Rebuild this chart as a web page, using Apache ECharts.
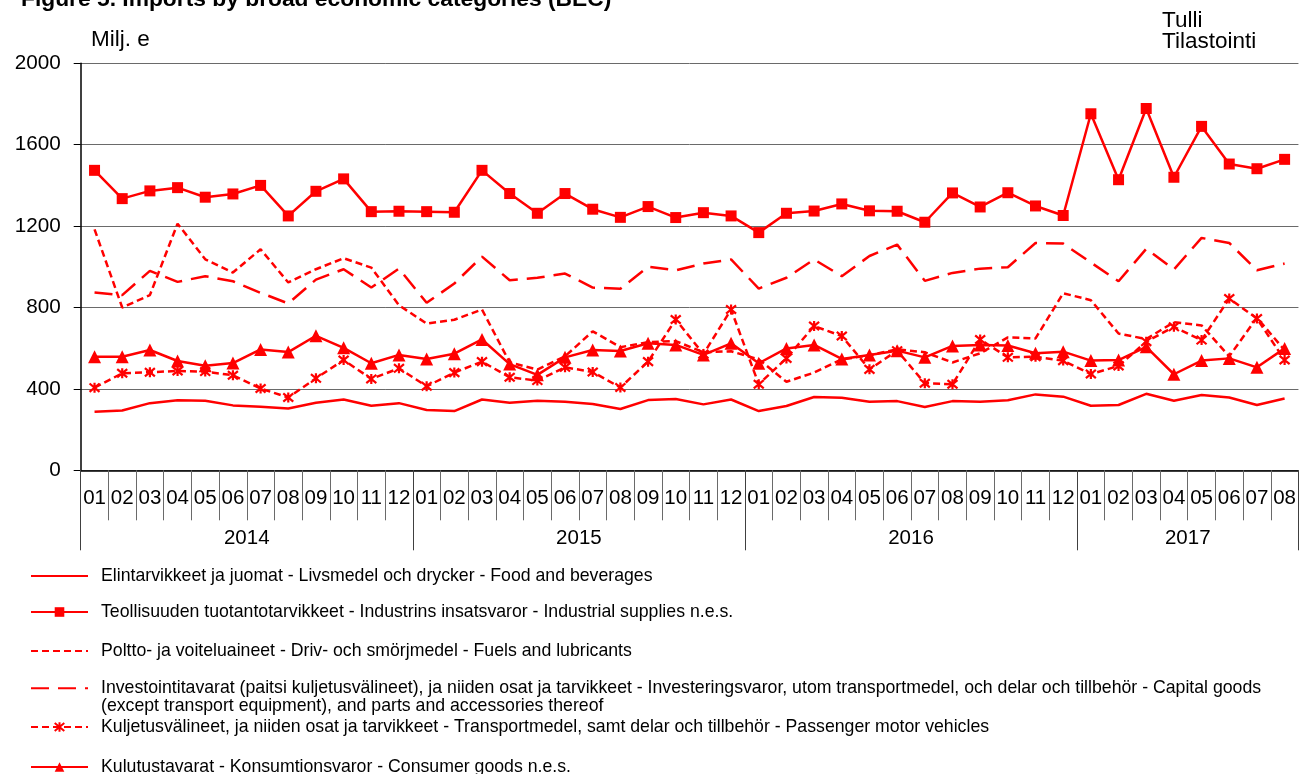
<!DOCTYPE html>
<html>
<head>
<meta charset="utf-8">
<script src="https://cdn.jsdelivr.net/npm/echarts@6/dist/echarts.min.js"></script>
<style>
html,body{margin:0;padding:0;background:#fff;}
#chart{width:1299px;height:774px;}
</style>
</head>
<body>
<div id="chart"></div>
<script>
// ---- data ----
const years = ['2014', '2015', '2016', '2017'];
const monthsPerYear = [12, 12, 12, 8];
const monthLabels = ['01','02','03','04','05','06','07','08','09','10','11','12'];

const seriesNames = [
  'Elintarvikkeet ja juomat - Livsmedel och drycker - Food and beverages',
  'Teollisuuden tuotantotarvikkeet - Industrins insatsvaror - Industrial supplies n.e.s.',
  'Poltto- ja voiteluaineet - Driv- och smörjmedel - Fuels and lubricants',
  'Investointitavarat (paitsi kuljetusvälineet), ja niiden osat ja tarvikkeet - Investeringsvaror, utom transportmedel, och delar och tillbehör - Capital goods (except transport equipment), and parts and accessories thereof',
  'Kuljetusvälineet, ja niiden osat ja tarvikkeet - Transportmedel, samt delar och tillbehör - Passenger motor vehicles',
  'Kulutustavarat - Konsumtionsvaror - Consumer goods n.e.s.'
];

const food = [288,294,330,344,342,319,312,304,332,348,317,330,
              296,291,348,332,342,337,326,301,345,350,324,348,
              291,316,360,357,337,340,311,340,337,344,373,362,
              317,321,376,342,370,358,321,353];
const industrial = [1474,1335,1373,1389,1342,1358,1400,1250,1371,1432,1271,1273,
                    1271,1268,1474,1360,1263,1360,1283,1243,1296,1242,1266,1250,
                    1168,1263,1274,1309,1275,1273,1219,1363,1294,1364,1299,1252,
                    1752,1428,1778,1440,1690,1505,1482,1528];
const fuels = [1184,800,861,1212,1037,972,1086,923,988,1042,996,811,
               721,740,790,530,495,560,683,605,630,635,580,585,
               545,435,480,545,565,595,580,530,575,653,648,870,
               836,672,645,728,712,560,750,590];
const capital = [874,861,980,926,954,929,872,820,937,988,898,991,
                 823,918,1050,934,946,967,898,892,1000,983,1016,1036,
                 893,946,1036,954,1053,1109,931,970,991,998,1117,1114,
                 1021,929,1088,987,1142,1117,983,1016];
const transport = [406,477,482,488,485,467,402,358,452,542,449,501,
                   413,480,534,457,441,506,483,407,534,741,571,790,
                   423,550,709,660,496,588,428,423,643,555,558,539,
                   473,513,632,705,640,844,746,542];
const consumer = [558,558,591,537,514,527,594,581,661,602,526,567,
                  547,573,643,522,469,555,591,586,624,616,567,624,
                  526,599,616,547,567,588,555,611,616,613,575,583,
                  539,542,607,472,539,550,506,599];

// ---- build categories ----
const monthCats = [];
const yearCats = [];
const yearStart = [];
years.forEach((y, yi) => {
  yearStart.push(monthCats.length);
  for (let m = 0; m < monthsPerYear[yi]; m++) {
    monthCats.push(monthLabels[m]);
    yearCats.push(y);
  }
});
const yearLabelIdx = years.map((y, yi) => yearStart[yi] + Math.floor(monthsPerYear[yi] / 2) - 1);

const FONT = 'Liberation Sans, Arial, sans-serif';
const RED = '#ff0000';
const asterisk = 'path://M0,0L10,10M10,0L0,10M5,-1L5,11';

const chart = echarts.init(document.getElementById('chart'), null, {renderer: 'canvas'});

const legendCenters = [576, 612, 651, 688, 727, 767];
const noMarker = [true, false, true, true, false, false];
const legends = seriesNames.map((n, i) => {
  const multi = (i === 3);
  const lh = multi ? 17.5 : 20;
  return {
    data: [n],
    left: 30,
    top: multi ? legendCenters[i] - lh * 1.5 : legendCenters[i] - 10,
    padding: 0,
    itemWidth: 57,
    itemHeight: 12,
    selectedMode: false,
    itemStyle: noMarker[i] ? {opacity: 0} : {},
    formatter: multi ? (name => '\n' + name.replace(' (except', '\n(except')) : undefined,
    textStyle: {
      fontFamily: FONT, fontSize: 17.7, color: '#000', lineHeight: lh,
      padding: [0, 0, 0, 8]
    }
  };
});

const option = {
  animation: false,
  textStyle: {fontFamily: FONT},
  title: [
    {text: 'Figure 5. Imports by broad economic categories (BEC)', left: 21, top: -12, padding: 0,
     textStyle: {fontFamily: FONT, fontSize: 22.8, fontWeight: 'bold', color: '#000', lineHeight: 23}},
    {text: 'Milj. e', left: 91, top: 28, padding: 0,
     textStyle: {fontFamily: FONT, fontSize: 22.5, fontWeight: 'normal', color: '#000', lineHeight: 23}},
    {text: 'Tulli\nTilastointi', left: 1162, top: 10, padding: 0,
     textStyle: {fontFamily: FONT, fontSize: 22.5, fontWeight: 'normal', color: '#000', lineHeight: 21}}
  ],
  legend: legends,
  grid: {left: 80.7, right: 0, top: 63.3, bottom: 774 - 470.3, containLabel: false},
  xAxis: [
    {
      type: 'category', data: monthCats, position: 'bottom', boundaryGap: true,
      axisLine: {show: true, lineStyle: {color: '#000', width: 1.5}},
      axisTick: {show: true, length: 50, lineStyle: {color: '#6a6a6a', width: 1}},
      axisLabel: {interval: 0, margin: 18, fontSize: 20.5, color: '#000', fontFamily: FONT},
      splitLine: {show: false}
    },
    {
      type: 'category', data: yearCats, position: 'bottom', offset: 0, boundaryGap: true,
      axisLine: {show: false},
      axisTick: {show: true, length: 80, interval: (idx) => yearStart.includes(idx),
                 lineStyle: {color: '#404040', width: 1}},
      axisLabel: {interval: (idx) => yearLabelIdx.includes(idx), margin: 58, fontSize: 20.5,
                  color: '#000', fontFamily: FONT, padding: [0, 0, 0, 27.7]},
      splitLine: {show: false}
    }
  ],
  yAxis: {
    type: 'value', min: 0, max: 2000, interval: 400,
    axisLine: {show: true, lineStyle: {color: '#000', width: 1.5}},
    axisTick: {show: true, length: 7, lineStyle: {color: '#000', width: 1}},
    axisLabel: {margin: 20, fontSize: 20.7, color: '#000', fontFamily: FONT,
                formatter: v => String(v)},
    splitLine: {show: true, lineStyle: {color: '#6a6a6a', width: 1}}
  },
  series: [
    {name: seriesNames[0], type: 'line', data: food, symbol: 'none',
     lineStyle: {color: RED, width: 2.5}, itemStyle: {color: RED}},
    {name: seriesNames[1], type: 'line', data: industrial, symbol: 'rect', symbolSize: 11,
     lineStyle: {color: RED, width: 2.5}, itemStyle: {color: RED}},
    {name: seriesNames[2], type: 'line', data: fuels, symbol: 'none',
     lineStyle: {color: RED, width: 2.5, type: [7, 4]}, itemStyle: {color: RED}},
    {name: seriesNames[3], type: 'line', data: capital, symbol: 'none',
     lineStyle: {color: RED, width: 2.5, type: [18, 9]}, itemStyle: {color: RED}},
    {name: seriesNames[4], type: 'line', data: transport, symbol: asterisk, symbolSize: 10,
     lineStyle: {color: RED, width: 2.5, type: [7, 4]},
     itemStyle: {color: RED, borderColor: RED, borderWidth: 2.2}},
    {name: seriesNames[5], type: 'line', data: consumer, symbol: 'triangle', symbolSize: 13,
     lineStyle: {color: RED, width: 2.5}, itemStyle: {color: RED}}
  ]
};
chart.setOption(option);
</script>
</body>
</html>
